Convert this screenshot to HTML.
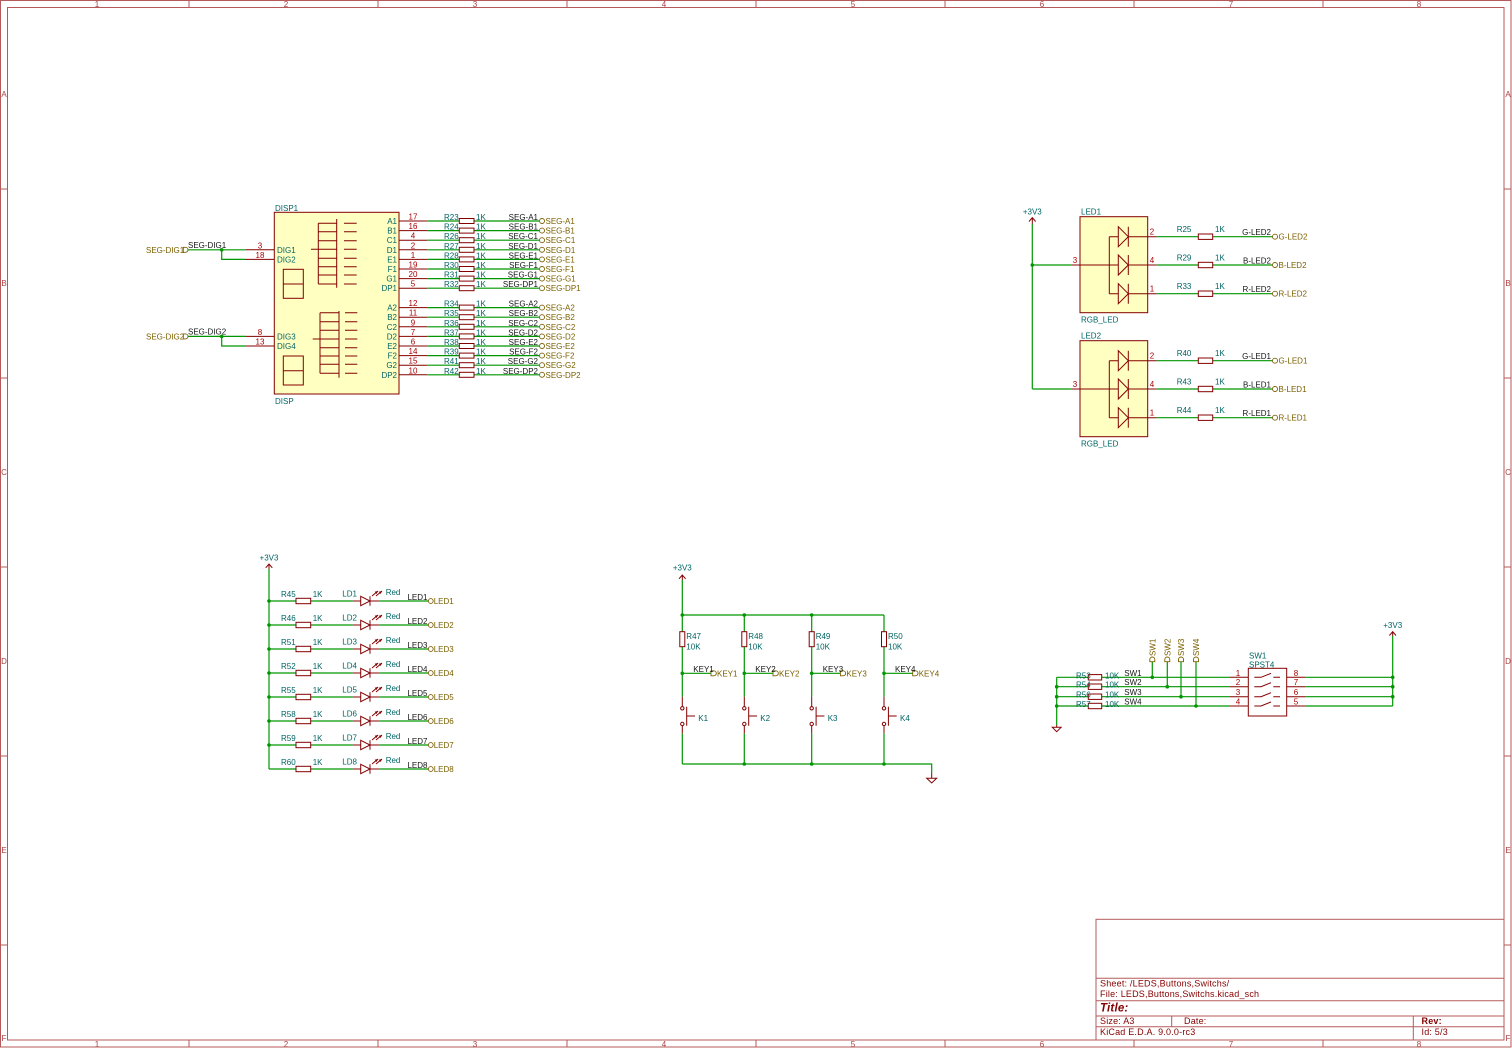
<!DOCTYPE html>
<html><head><meta charset="utf-8"><style>
html,body{margin:0;padding:0;background:#fff}
svg{display:block}
text{font-family:"Liberation Sans",sans-serif;font-size:8px}
.w{stroke:#009600;stroke-width:1.2;fill:none}
.p{stroke:#840000;stroke-width:1;fill:none}
.b{stroke:#840000;stroke-width:1;fill:#ffffc2}
.fr{stroke:#b55a5a;stroke-width:1;fill:none}
.fl{fill:#a84040;font-size:8px;text-anchor:middle}
.pn{fill:#a90000;text-anchor:middle}
.t{fill:#006464}
.n{fill:#151515}
.h{fill:#7a6000}
.hs{stroke:#7a6000;fill:none;stroke-width:0.9}
.e{text-anchor:end}
.m{text-anchor:middle}
.j{fill:#009600}
.tb{fill:#840000;font-size:9px;letter-spacing:0.2px}
</style></head><body>
<svg width="1512" height="1048" viewBox="0 0 1512 1048" xmlns="http://www.w3.org/2000/svg">
<!-- FRAME -->
<rect class="fr" x="0.5" y="0.5" width="1510.5" height="1046.5"/>
<rect class="fr" x="7.5" y="7.5" width="1496.5" height="1032.5"/>
<path class="fr" d="M189 0.5V7.5M378 0.5V7.5M567 0.5V7.5M756 0.5V7.5M945 0.5V7.5M1134 0.5V7.5M1323 0.5V7.5M189 1040V1047M378 1040V1047M567 1040V1047M756 1040V1047M945 1040V1047M1134 1040V1047M1323 1040V1047M0.5 189H7.5M0.5 378H7.5M0.5 567H7.5M0.5 756H7.5M0.5 945H7.5M1504 189H1511M1504 378H1511M1504 567H1511M1504 756H1511M1504 945H1511"/>
<text class="fl" x="97" y="7">1</text><text class="fl" x="286" y="7">2</text><text class="fl" x="475" y="7">3</text><text class="fl" x="664" y="7">4</text><text class="fl" x="853" y="7">5</text><text class="fl" x="1042" y="7">6</text><text class="fl" x="1231" y="7">7</text><text class="fl" x="1419" y="7">8</text>
<text class="fl" x="97" y="1047">1</text><text class="fl" x="286" y="1047">2</text><text class="fl" x="475" y="1047">3</text><text class="fl" x="664" y="1047">4</text><text class="fl" x="853" y="1047">5</text><text class="fl" x="1042" y="1047">6</text><text class="fl" x="1231" y="1047">7</text><text class="fl" x="1419" y="1047">8</text>
<text class="fl" x="4" y="97">A</text><text class="fl" x="4" y="286">B</text><text class="fl" x="4" y="475">C</text><text class="fl" x="4" y="664">D</text><text class="fl" x="4" y="853">E</text><text class="fl" x="4" y="1041">F</text>
<text class="fl" x="1508" y="97">A</text><text class="fl" x="1508" y="286">B</text><text class="fl" x="1508" y="475">C</text><text class="fl" x="1508" y="664">D</text><text class="fl" x="1508" y="853">E</text><text class="fl" x="1508" y="1041">F</text>

<!-- TITLE BLOCK -->
<rect class="fr" x="1096" y="919.3" width="408" height="120.7"/>
<path class="fr" d="M1096 978.3H1504M1096 1000.7H1504M1096 1016H1504M1096 1026.7H1504M1171.7 1016V1026.7M1413.3 1016V1040"/>
<text class="tb" x="1100" y="986.5">Sheet: /LEDS,Buttons,Switchs/</text>
<text class="tb" x="1100" y="996.8">File: LEDS,Buttons,Switchs.kicad_sch</text>
<text class="tb" x="1100" y="1011.5" style="font-size:11.5px;font-weight:bold;font-style:italic">Title:</text>
<text class="tb" x="1100" y="1024">Size: A3</text>
<text class="tb" x="1184" y="1024">Date:</text>
<text class="tb" x="1421.5" y="1024" style="font-weight:bold">Rev:</text>
<text class="tb" x="1100" y="1035">KiCad E.D.A. 9.0.0-rc3</text>
<text class="tb" x="1421.5" y="1035">Id: 5/3</text>

<!-- DISP1 -->
<rect class="b" x="274.3" y="212.3" width="124.7" height="181.7"/>
<text class="t" x="275" y="211">DISP1</text>
<text class="t" x="275" y="404">DISP</text>
<path class="p" d="M336.7 219V287.7M318.3 223.3V284M318.3 223.3H336.7M318.3 231.7H336.7M318.3 240.7H336.7M318.3 249.3H336.7M318.3 258.3H336.7M318.3 266.7H336.7M318.3 275H336.7M318.3 284H336.7M311 249.3H318.3M344 223.3H356.7M344 231.7H356.7M344 240.7H356.7M344 249.3H356.7M344 258.3H356.7M344 266.7H356.7M344 275H356.7M344 284H356.7"/>
<rect class="p" x="283.3" y="269.3" width="20" height="29"/><path class="p" d="M283.3 284H303.3"/>
<path class="p" d="M339 311V377.7M320 312.7V373.3M320 312.7H339M320 321.7H339M320 330.3H339M320 339H339M320 347.7H339M320 356H339M320 364.3H339M320 373.3H339M312.7 339H320M345 312.7H357.3M345 321.7H357.3M345 330.3H357.3M345 339H357.3M345 347.7H357.3M345 356H357.3M345 364.3H357.3M345 373.3H357.3"/>
<rect class="p" x="283.3" y="356" width="20" height="29"/><path class="p" d="M283.3 370.7H303.3"/>
<!-- left pins -->
<path class="p" d="M246 249.8H274.3M246 259.4H274.3M246 336.4H274.3M246 346H274.3"/>
<path class="w" d="M188 249.8H246M221.7 249.8V259.4H246M188 336.4H246M221.7 336.4V346H246"/>
<circle class="j" cx="221.7" cy="249.8" r="1.8"/><circle class="j" cx="221.7" cy="336.4" r="1.8"/>
<text class="pn" x="260" y="248.3">3</text><text class="pn" x="260" y="257.9">18</text><text class="pn" x="260" y="334.9">8</text><text class="pn" x="260" y="344.5">13</text>
<text class="t" x="277" y="252.8">DIG1</text><text class="t" x="277" y="262.4">DIG2</text><text class="t" x="277" y="339.4">DIG3</text><text class="t" x="277" y="349">DIG4</text>
<text class="n" x="188" y="248">SEG-DIG1</text><text class="n" x="188" y="334.6">SEG-DIG2</text>
<text class="h" x="146" y="252.8">SEG-DIG1</text><text class="h" x="146" y="339.4">SEG-DIG2</text>
<path class="hs" d="M183.3 247.3H185.5A2.5 2.5 0 0 1 185.5 252.3H183.3ZM183.3 333.9H185.5A2.5 2.5 0 0 1 185.5 338.9H183.3Z"/>
<!-- right pin rows -->
<g transform="translate(0,221)"><path class="p" d="M399 0H427.3"/><path class="w" d="M427.3 0H459.3M474 0H539"/><rect class="p" x="459.3" y="-2.5" width="14.7" height="5"/><circle class="hs" cx="542" cy="0" r="2.5"/><text class="pn" x="413" y="-1.5">17</text><text class="t e" x="397" y="3">A1</text><text class="t" x="444" y="-1">R23</text><text class="t" x="476" y="-1">1K</text><text class="n e" x="538" y="-1">SEG-A1</text><text class="h" x="545.5" y="3">SEG-A1</text></g>
<g transform="translate(0,230.6)"><path class="p" d="M399 0H427.3"/><path class="w" d="M427.3 0H459.3M474 0H539"/><rect class="p" x="459.3" y="-2.5" width="14.7" height="5"/><circle class="hs" cx="542" cy="0" r="2.5"/><text class="pn" x="413" y="-1.5">16</text><text class="t e" x="397" y="3">B1</text><text class="t" x="444" y="-1">R24</text><text class="t" x="476" y="-1">1K</text><text class="n e" x="538" y="-1">SEG-B1</text><text class="h" x="545.5" y="3">SEG-B1</text></g>
<g transform="translate(0,240.2)"><path class="p" d="M399 0H427.3"/><path class="w" d="M427.3 0H459.3M474 0H539"/><rect class="p" x="459.3" y="-2.5" width="14.7" height="5"/><circle class="hs" cx="542" cy="0" r="2.5"/><text class="pn" x="413" y="-1.5">4</text><text class="t e" x="397" y="3">C1</text><text class="t" x="444" y="-1">R26</text><text class="t" x="476" y="-1">1K</text><text class="n e" x="538" y="-1">SEG-C1</text><text class="h" x="545.5" y="3">SEG-C1</text></g>
<g transform="translate(0,249.8)"><path class="p" d="M399 0H427.3"/><path class="w" d="M427.3 0H459.3M474 0H539"/><rect class="p" x="459.3" y="-2.5" width="14.7" height="5"/><circle class="hs" cx="542" cy="0" r="2.5"/><text class="pn" x="413" y="-1.5">2</text><text class="t e" x="397" y="3">D1</text><text class="t" x="444" y="-1">R27</text><text class="t" x="476" y="-1">1K</text><text class="n e" x="538" y="-1">SEG-D1</text><text class="h" x="545.5" y="3">SEG-D1</text></g>
<g transform="translate(0,259.4)"><path class="p" d="M399 0H427.3"/><path class="w" d="M427.3 0H459.3M474 0H539"/><rect class="p" x="459.3" y="-2.5" width="14.7" height="5"/><circle class="hs" cx="542" cy="0" r="2.5"/><text class="pn" x="413" y="-1.5">1</text><text class="t e" x="397" y="3">E1</text><text class="t" x="444" y="-1">R28</text><text class="t" x="476" y="-1">1K</text><text class="n e" x="538" y="-1">SEG-E1</text><text class="h" x="545.5" y="3">SEG-E1</text></g>
<g transform="translate(0,269)"><path class="p" d="M399 0H427.3"/><path class="w" d="M427.3 0H459.3M474 0H539"/><rect class="p" x="459.3" y="-2.5" width="14.7" height="5"/><circle class="hs" cx="542" cy="0" r="2.5"/><text class="pn" x="413" y="-1.5">19</text><text class="t e" x="397" y="3">F1</text><text class="t" x="444" y="-1">R30</text><text class="t" x="476" y="-1">1K</text><text class="n e" x="538" y="-1">SEG-F1</text><text class="h" x="545.5" y="3">SEG-F1</text></g>
<g transform="translate(0,278.6)"><path class="p" d="M399 0H427.3"/><path class="w" d="M427.3 0H459.3M474 0H539"/><rect class="p" x="459.3" y="-2.5" width="14.7" height="5"/><circle class="hs" cx="542" cy="0" r="2.5"/><text class="pn" x="413" y="-1.5">20</text><text class="t e" x="397" y="3">G1</text><text class="t" x="444" y="-1">R31</text><text class="t" x="476" y="-1">1K</text><text class="n e" x="538" y="-1">SEG-G1</text><text class="h" x="545.5" y="3">SEG-G1</text></g>
<g transform="translate(0,288.2)"><path class="p" d="M399 0H427.3"/><path class="w" d="M427.3 0H459.3M474 0H539"/><rect class="p" x="459.3" y="-2.5" width="14.7" height="5"/><circle class="hs" cx="542" cy="0" r="2.5"/><text class="pn" x="413" y="-1.5">5</text><text class="t e" x="397" y="3">DP1</text><text class="t" x="444" y="-1">R32</text><text class="t" x="476" y="-1">1K</text><text class="n e" x="538" y="-1">SEG-DP1</text><text class="h" x="545.5" y="3">SEG-DP1</text></g>
<g transform="translate(0,307.6)"><path class="p" d="M399 0H427.3"/><path class="w" d="M427.3 0H459.3M474 0H539"/><rect class="p" x="459.3" y="-2.5" width="14.7" height="5"/><circle class="hs" cx="542" cy="0" r="2.5"/><text class="pn" x="413" y="-1.5">12</text><text class="t e" x="397" y="3">A2</text><text class="t" x="444" y="-1">R34</text><text class="t" x="476" y="-1">1K</text><text class="n e" x="538" y="-1">SEG-A2</text><text class="h" x="545.5" y="3">SEG-A2</text></g>
<g transform="translate(0,317.2)"><path class="p" d="M399 0H427.3"/><path class="w" d="M427.3 0H459.3M474 0H539"/><rect class="p" x="459.3" y="-2.5" width="14.7" height="5"/><circle class="hs" cx="542" cy="0" r="2.5"/><text class="pn" x="413" y="-1.5">11</text><text class="t e" x="397" y="3">B2</text><text class="t" x="444" y="-1">R35</text><text class="t" x="476" y="-1">1K</text><text class="n e" x="538" y="-1">SEG-B2</text><text class="h" x="545.5" y="3">SEG-B2</text></g>
<g transform="translate(0,326.8)"><path class="p" d="M399 0H427.3"/><path class="w" d="M427.3 0H459.3M474 0H539"/><rect class="p" x="459.3" y="-2.5" width="14.7" height="5"/><circle class="hs" cx="542" cy="0" r="2.5"/><text class="pn" x="413" y="-1.5">9</text><text class="t e" x="397" y="3">C2</text><text class="t" x="444" y="-1">R36</text><text class="t" x="476" y="-1">1K</text><text class="n e" x="538" y="-1">SEG-C2</text><text class="h" x="545.5" y="3">SEG-C2</text></g>
<g transform="translate(0,336.4)"><path class="p" d="M399 0H427.3"/><path class="w" d="M427.3 0H459.3M474 0H539"/><rect class="p" x="459.3" y="-2.5" width="14.7" height="5"/><circle class="hs" cx="542" cy="0" r="2.5"/><text class="pn" x="413" y="-1.5">7</text><text class="t e" x="397" y="3">D2</text><text class="t" x="444" y="-1">R37</text><text class="t" x="476" y="-1">1K</text><text class="n e" x="538" y="-1">SEG-D2</text><text class="h" x="545.5" y="3">SEG-D2</text></g>
<g transform="translate(0,346)"><path class="p" d="M399 0H427.3"/><path class="w" d="M427.3 0H459.3M474 0H539"/><rect class="p" x="459.3" y="-2.5" width="14.7" height="5"/><circle class="hs" cx="542" cy="0" r="2.5"/><text class="pn" x="413" y="-1.5">6</text><text class="t e" x="397" y="3">E2</text><text class="t" x="444" y="-1">R38</text><text class="t" x="476" y="-1">1K</text><text class="n e" x="538" y="-1">SEG-E2</text><text class="h" x="545.5" y="3">SEG-E2</text></g>
<g transform="translate(0,355.6)"><path class="p" d="M399 0H427.3"/><path class="w" d="M427.3 0H459.3M474 0H539"/><rect class="p" x="459.3" y="-2.5" width="14.7" height="5"/><circle class="hs" cx="542" cy="0" r="2.5"/><text class="pn" x="413" y="-1.5">14</text><text class="t e" x="397" y="3">F2</text><text class="t" x="444" y="-1">R39</text><text class="t" x="476" y="-1">1K</text><text class="n e" x="538" y="-1">SEG-F2</text><text class="h" x="545.5" y="3">SEG-F2</text></g>
<g transform="translate(0,365.2)"><path class="p" d="M399 0H427.3"/><path class="w" d="M427.3 0H459.3M474 0H539"/><rect class="p" x="459.3" y="-2.5" width="14.7" height="5"/><circle class="hs" cx="542" cy="0" r="2.5"/><text class="pn" x="413" y="-1.5">15</text><text class="t e" x="397" y="3">G2</text><text class="t" x="444" y="-1">R41</text><text class="t" x="476" y="-1">1K</text><text class="n e" x="538" y="-1">SEG-G2</text><text class="h" x="545.5" y="3">SEG-G2</text></g>
<g transform="translate(0,374.8)"><path class="p" d="M399 0H427.3"/><path class="w" d="M427.3 0H459.3M474 0H539"/><rect class="p" x="459.3" y="-2.5" width="14.7" height="5"/><circle class="hs" cx="542" cy="0" r="2.5"/><text class="pn" x="413" y="-1.5">10</text><text class="t e" x="397" y="3">DP2</text><text class="t" x="444" y="-1">R42</text><text class="t" x="476" y="-1">1K</text><text class="n e" x="538" y="-1">SEG-DP2</text><text class="h" x="545.5" y="3">SEG-DP2</text></g>

<!-- RGB LEDs -->
<text class="t m" x="1032.3" y="214.5">+3V3</text>
<path class="p" d="M1032.3 218V224M1029 221.5L1032.3 217.7L1035.6 221.5"/>
<path class="w" d="M1032.3 224V389M1032.3 265H1071.7M1032.3 389H1071.7"/>
<circle class="j" cx="1032.3" cy="265" r="1.8"/>
<g transform="translate(0,216.7)">
<rect class="b" x="1080" y="0" width="67.7" height="96"/>
<text class="t" x="1081" y="-2">LED1</text><text class="t" x="1081" y="106">RGB_LED</text>
<path class="p" d="M1071.7 48.3H1118.3M1109.3 20V77M1109.3 20H1118.3M1109.3 77H1118.3M1128.3 20H1156.7M1128.3 48.3H1156.7M1128.3 77H1156.7M1128.3 10V30M1128.3 38.3V58.3M1128.3 67V87"/>
<path class="p" d="M1118.3 10V30L1128.3 20ZM1118.3 38.3V58.3L1128.3 48.3ZM1118.3 67V87L1128.3 77Z"/>
<text class="pn" x="1075" y="46.3">3</text><text class="pn" x="1152" y="18">2</text><text class="pn" x="1152" y="46.3">4</text><text class="pn" x="1152" y="75">1</text>
<path class="w" d="M1156.7 20H1198.3M1212.7 20H1272.3M1156.7 48.3H1198.3M1212.7 48.3H1272.3M1156.7 77H1198.3M1212.7 77H1272.3"/>
<rect class="p" x="1198.3" y="17.3" width="14.4" height="5.4"/><rect class="p" x="1198.3" y="45.6" width="14.4" height="5.4"/><rect class="p" x="1198.3" y="74.3" width="14.4" height="5.4"/>
<circle class="hs" cx="1275" cy="20" r="2.5"/><circle class="hs" cx="1275" cy="48.3" r="2.5"/><circle class="hs" cx="1275" cy="77" r="2.5"/>
<text class="t" x="1176.7" y="15.5">R25</text><text class="t" x="1215" y="15.5">1K</text><text class="n e" x="1271" y="18.5">G-LED2</text><text class="h" x="1278.5" y="23">G-LED2</text>
<text class="t" x="1176.7" y="43.8">R29</text><text class="t" x="1215" y="43.8">1K</text><text class="n e" x="1271" y="46.8">B-LED2</text><text class="h" x="1278.5" y="51.3">B-LED2</text>
<text class="t" x="1176.7" y="72.5">R33</text><text class="t" x="1215" y="72.5">1K</text><text class="n e" x="1271" y="75.5">R-LED2</text><text class="h" x="1278.5" y="80">R-LED2</text>
</g>
<g transform="translate(0,340.7)">
<rect class="b" x="1080" y="0" width="67.7" height="96"/>
<text class="t" x="1081" y="-2">LED2</text><text class="t" x="1081" y="106">RGB_LED</text>
<path class="p" d="M1071.7 48.3H1118.3M1109.3 20V77M1109.3 20H1118.3M1109.3 77H1118.3M1128.3 20H1156.7M1128.3 48.3H1156.7M1128.3 77H1156.7M1128.3 10V30M1128.3 38.3V58.3M1128.3 67V87"/>
<path class="p" d="M1118.3 10V30L1128.3 20ZM1118.3 38.3V58.3L1128.3 48.3ZM1118.3 67V87L1128.3 77Z"/>
<text class="pn" x="1075" y="46.3">3</text><text class="pn" x="1152" y="18">2</text><text class="pn" x="1152" y="46.3">4</text><text class="pn" x="1152" y="75">1</text>
<path class="w" d="M1156.7 20H1198.3M1212.7 20H1272.3M1156.7 48.3H1198.3M1212.7 48.3H1272.3M1156.7 77H1198.3M1212.7 77H1272.3"/>
<rect class="p" x="1198.3" y="17.3" width="14.4" height="5.4"/><rect class="p" x="1198.3" y="45.6" width="14.4" height="5.4"/><rect class="p" x="1198.3" y="74.3" width="14.4" height="5.4"/>
<circle class="hs" cx="1275" cy="20" r="2.5"/><circle class="hs" cx="1275" cy="48.3" r="2.5"/><circle class="hs" cx="1275" cy="77" r="2.5"/>
<text class="t" x="1176.7" y="15.5">R40</text><text class="t" x="1215" y="15.5">1K</text><text class="n e" x="1271" y="18.5">G-LED1</text><text class="h" x="1278.5" y="23">G-LED1</text>
<text class="t" x="1176.7" y="43.8">R43</text><text class="t" x="1215" y="43.8">1K</text><text class="n e" x="1271" y="46.8">B-LED1</text><text class="h" x="1278.5" y="51.3">B-LED1</text>
<text class="t" x="1176.7" y="72.5">R44</text><text class="t" x="1215" y="72.5">1K</text><text class="n e" x="1271" y="75.5">R-LED1</text><text class="h" x="1278.5" y="80">R-LED1</text>
</g>

<!-- LED COLUMN -->
<text class="t m" x="269" y="560.5">+3V3</text>
<path class="p" d="M269 564V569M265.7 567.8L269 564L272.3 567.8"/>
<path class="w" d="M269 569V769"/>
<g>
<g transform="translate(0,601)"><path class="w" d="M269 0H296M310.7 0H352.7M379.3 0H428.3"/><path class="p" d="M352.7 0H360.7M370 0H379.3M360.7 -4.7V4.7L370 0ZM370 -4.7V4.7M372 -5L378 -10M376 -5L382 -10"/><path d="M378 -10L376.7 -7L374.7 -9.3ZM382 -10L380.7 -7L378.7 -9.3Z" fill="#840000"/><rect class="p" x="296" y="-2.7" width="14.7" height="5.4"/><circle class="j" cx="269" cy="0" r="1.8"/><circle class="hs" cx="430.8" cy="0" r="2.4"/><text class="t" x="281" y="-4">R45</text><text class="t" x="312.7" y="-4">1K</text><text class="t" x="342.3" y="-4.5">LD1</text><text class="t" x="385.7" y="-6">Red</text><text class="n e" x="427.5" y="-1">LED1</text><text class="h" x="433.7" y="3">LED1</text></g>
<g transform="translate(0,625)"><path class="w" d="M269 0H296M310.7 0H352.7M379.3 0H428.3"/><path class="p" d="M352.7 0H360.7M370 0H379.3M360.7 -4.7V4.7L370 0ZM370 -4.7V4.7M372 -5L378 -10M376 -5L382 -10"/><path d="M378 -10L376.7 -7L374.7 -9.3ZM382 -10L380.7 -7L378.7 -9.3Z" fill="#840000"/><rect class="p" x="296" y="-2.7" width="14.7" height="5.4"/><circle class="j" cx="269" cy="0" r="1.8"/><circle class="hs" cx="430.8" cy="0" r="2.4"/><text class="t" x="281" y="-4">R46</text><text class="t" x="312.7" y="-4">1K</text><text class="t" x="342.3" y="-4.5">LD2</text><text class="t" x="385.7" y="-6">Red</text><text class="n e" x="427.5" y="-1">LED2</text><text class="h" x="433.7" y="3">LED2</text></g>
<g transform="translate(0,649)"><path class="w" d="M269 0H296M310.7 0H352.7M379.3 0H428.3"/><path class="p" d="M352.7 0H360.7M370 0H379.3M360.7 -4.7V4.7L370 0ZM370 -4.7V4.7M372 -5L378 -10M376 -5L382 -10"/><path d="M378 -10L376.7 -7L374.7 -9.3ZM382 -10L380.7 -7L378.7 -9.3Z" fill="#840000"/><rect class="p" x="296" y="-2.7" width="14.7" height="5.4"/><circle class="j" cx="269" cy="0" r="1.8"/><circle class="hs" cx="430.8" cy="0" r="2.4"/><text class="t" x="281" y="-4">R51</text><text class="t" x="312.7" y="-4">1K</text><text class="t" x="342.3" y="-4.5">LD3</text><text class="t" x="385.7" y="-6">Red</text><text class="n e" x="427.5" y="-1">LED3</text><text class="h" x="433.7" y="3">LED3</text></g>
<g transform="translate(0,673)"><path class="w" d="M269 0H296M310.7 0H352.7M379.3 0H428.3"/><path class="p" d="M352.7 0H360.7M370 0H379.3M360.7 -4.7V4.7L370 0ZM370 -4.7V4.7M372 -5L378 -10M376 -5L382 -10"/><path d="M378 -10L376.7 -7L374.7 -9.3ZM382 -10L380.7 -7L378.7 -9.3Z" fill="#840000"/><rect class="p" x="296" y="-2.7" width="14.7" height="5.4"/><circle class="j" cx="269" cy="0" r="1.8"/><circle class="hs" cx="430.8" cy="0" r="2.4"/><text class="t" x="281" y="-4">R52</text><text class="t" x="312.7" y="-4">1K</text><text class="t" x="342.3" y="-4.5">LD4</text><text class="t" x="385.7" y="-6">Red</text><text class="n e" x="427.5" y="-1">LED4</text><text class="h" x="433.7" y="3">LED4</text></g>
<g transform="translate(0,697)"><path class="w" d="M269 0H296M310.7 0H352.7M379.3 0H428.3"/><path class="p" d="M352.7 0H360.7M370 0H379.3M360.7 -4.7V4.7L370 0ZM370 -4.7V4.7M372 -5L378 -10M376 -5L382 -10"/><path d="M378 -10L376.7 -7L374.7 -9.3ZM382 -10L380.7 -7L378.7 -9.3Z" fill="#840000"/><rect class="p" x="296" y="-2.7" width="14.7" height="5.4"/><circle class="j" cx="269" cy="0" r="1.8"/><circle class="hs" cx="430.8" cy="0" r="2.4"/><text class="t" x="281" y="-4">R55</text><text class="t" x="312.7" y="-4">1K</text><text class="t" x="342.3" y="-4.5">LD5</text><text class="t" x="385.7" y="-6">Red</text><text class="n e" x="427.5" y="-1">LED5</text><text class="h" x="433.7" y="3">LED5</text></g>
<g transform="translate(0,721)"><path class="w" d="M269 0H296M310.7 0H352.7M379.3 0H428.3"/><path class="p" d="M352.7 0H360.7M370 0H379.3M360.7 -4.7V4.7L370 0ZM370 -4.7V4.7M372 -5L378 -10M376 -5L382 -10"/><path d="M378 -10L376.7 -7L374.7 -9.3ZM382 -10L380.7 -7L378.7 -9.3Z" fill="#840000"/><rect class="p" x="296" y="-2.7" width="14.7" height="5.4"/><circle class="j" cx="269" cy="0" r="1.8"/><circle class="hs" cx="430.8" cy="0" r="2.4"/><text class="t" x="281" y="-4">R58</text><text class="t" x="312.7" y="-4">1K</text><text class="t" x="342.3" y="-4.5">LD6</text><text class="t" x="385.7" y="-6">Red</text><text class="n e" x="427.5" y="-1">LED6</text><text class="h" x="433.7" y="3">LED6</text></g>
<g transform="translate(0,745)"><path class="w" d="M269 0H296M310.7 0H352.7M379.3 0H428.3"/><path class="p" d="M352.7 0H360.7M370 0H379.3M360.7 -4.7V4.7L370 0ZM370 -4.7V4.7M372 -5L378 -10M376 -5L382 -10"/><path d="M378 -10L376.7 -7L374.7 -9.3ZM382 -10L380.7 -7L378.7 -9.3Z" fill="#840000"/><rect class="p" x="296" y="-2.7" width="14.7" height="5.4"/><circle class="j" cx="269" cy="0" r="1.8"/><circle class="hs" cx="430.8" cy="0" r="2.4"/><text class="t" x="281" y="-4">R59</text><text class="t" x="312.7" y="-4">1K</text><text class="t" x="342.3" y="-4.5">LD7</text><text class="t" x="385.7" y="-6">Red</text><text class="n e" x="427.5" y="-1">LED7</text><text class="h" x="433.7" y="3">LED7</text></g>
<g transform="translate(0,769)"><path class="w" d="M269 0H296M310.7 0H352.7M379.3 0H428.3"/><path class="p" d="M352.7 0H360.7M370 0H379.3M360.7 -4.7V4.7L370 0ZM370 -4.7V4.7M372 -5L378 -10M376 -5L382 -10"/><path d="M378 -10L376.7 -7L374.7 -9.3ZM382 -10L380.7 -7L378.7 -9.3Z" fill="#840000"/><rect class="p" x="296" y="-2.7" width="14.7" height="5.4"/><circle class="hs" cx="430.8" cy="0" r="2.4"/><text class="t" x="281" y="-4">R60</text><text class="t" x="312.7" y="-4">1K</text><text class="t" x="342.3" y="-4.5">LD8</text><text class="t" x="385.7" y="-6">Red</text><text class="n e" x="427.5" y="-1">LED8</text><text class="h" x="433.7" y="3">LED8</text></g>
</g>

<!-- KEYS -->
<text class="t m" x="682.3" y="570.5">+3V3</text>
<path class="p" d="M682.3 575V580M679 578.8L682.3 575L685.6 578.8"/>
<path class="w" d="M682.3 580V615H884M682.3 764H931.7V773"/>
<circle class="j" cx="682.3" cy="615" r="1.8"/><circle class="j" cx="744.3" cy="615" r="1.8"/><circle class="j" cx="811.7" cy="615" r="1.8"/>
<circle class="j" cx="744.3" cy="764" r="1.8"/><circle class="j" cx="811.7" cy="764" r="1.8"/><circle class="j" cx="884" cy="764" r="1.8"/>
<path class="p" d="M931.7 773V778.3M926.7 778.3H936.7L931.7 783Z"/>
<g transform="translate(682.3,0)"><path class="w" d="M0 615V631.7M0 646.7V696.7M0 733.3V764M0 673.3H28.7"/><rect class="p" x="-2.5" y="631.7" width="5" height="15"/><path class="p" d="M0 696.7V706.6M0 725.7V733.3M4.4 706.7V725.7M4.4 716H12.7"/><circle class="p" cx="0" cy="708.3" r="1.7"/><circle class="p" cx="0" cy="724" r="1.7"/><circle class="j" cx="0" cy="673.3" r="1.8"/><path class="hs" d="M28.7 670.8H31.5A2.5 2.5 0 0 1 31.5 675.8H28.7Z"/><text class="t" x="4" y="639">R47</text><text class="t" x="4" y="649.5">10K</text><text class="n" x="11" y="671.8">KEY1</text><text class="h" x="34.7" y="676.3">KEY1</text><text class="t" x="16" y="721">K1</text></g>
<g transform="translate(744.3,0)"><path class="w" d="M0 615V631.7M0 646.7V696.7M0 733.3V764M0 673.3H28.7"/><rect class="p" x="-2.5" y="631.7" width="5" height="15"/><path class="p" d="M0 696.7V706.6M0 725.7V733.3M4.4 706.7V725.7M4.4 716H12.7"/><circle class="p" cx="0" cy="708.3" r="1.7"/><circle class="p" cx="0" cy="724" r="1.7"/><circle class="j" cx="0" cy="673.3" r="1.8"/><path class="hs" d="M28.7 670.8H31.5A2.5 2.5 0 0 1 31.5 675.8H28.7Z"/><text class="t" x="4" y="639">R48</text><text class="t" x="4" y="649.5">10K</text><text class="n" x="11" y="671.8">KEY2</text><text class="h" x="34.7" y="676.3">KEY2</text><text class="t" x="16" y="721">K2</text></g>
<g transform="translate(811.7,0)"><path class="w" d="M0 615V631.7M0 646.7V696.7M0 733.3V764M0 673.3H28.7"/><rect class="p" x="-2.5" y="631.7" width="5" height="15"/><path class="p" d="M0 696.7V706.6M0 725.7V733.3M4.4 706.7V725.7M4.4 716H12.7"/><circle class="p" cx="0" cy="708.3" r="1.7"/><circle class="p" cx="0" cy="724" r="1.7"/><circle class="j" cx="0" cy="673.3" r="1.8"/><path class="hs" d="M28.7 670.8H31.5A2.5 2.5 0 0 1 31.5 675.8H28.7Z"/><text class="t" x="4" y="639">R49</text><text class="t" x="4" y="649.5">10K</text><text class="n" x="11" y="671.8">KEY3</text><text class="h" x="34.7" y="676.3">KEY3</text><text class="t" x="16" y="721">K3</text></g>
<g transform="translate(884,0)"><path class="w" d="M0 615V631.7M0 646.7V696.7M0 733.3V764M0 673.3H28.7"/><rect class="p" x="-2.5" y="631.7" width="5" height="15"/><path class="p" d="M0 696.7V706.6M0 725.7V733.3M4.4 706.7V725.7M4.4 716H12.7"/><circle class="p" cx="0" cy="708.3" r="1.7"/><circle class="p" cx="0" cy="724" r="1.7"/><circle class="j" cx="0" cy="673.3" r="1.8"/><path class="hs" d="M28.7 670.8H31.5A2.5 2.5 0 0 1 31.5 675.8H28.7Z"/><text class="t" x="4" y="639">R50</text><text class="t" x="4" y="649.5">10K</text><text class="n" x="11" y="671.8">KEY4</text><text class="h" x="34.7" y="676.3">KEY4</text><text class="t" x="16" y="721">K4</text></g>

<!-- SWITCHES -->
<text class="t m" x="1392.7" y="628">+3V3</text>
<path class="p" d="M1392.7 631.7V636M1389.4 635.5L1392.7 631.7L1396 635.5"/>
<path class="w" d="M1392.7 636V706M1056.7 677.3V725"/>
<circle class="j" cx="1392.7" cy="677.3" r="1.8"/><circle class="j" cx="1392.7" cy="686.7" r="1.8"/><circle class="j" cx="1392.7" cy="696.7" r="1.8"/>
<circle class="j" cx="1056.7" cy="686.7" r="1.8"/><circle class="j" cx="1056.7" cy="696.7" r="1.8"/><circle class="j" cx="1056.7" cy="706" r="1.8"/>
<path class="p" d="M1056.7 725V727.3M1052.3 727.3H1061.1L1056.7 731.7Z"/>
<rect class="p" x="1248.3" y="668.3" width="38.4" height="47.7"/>
<text class="t" x="1249" y="658.5">SW1</text><text class="t" x="1249" y="667.5">SPST4</text>
<g transform="translate(0,677.3)"><path class="w" d="M1056.7 0H1088.3M1101.7 0H1230M1305 0H1392.7"/><path class="p" d="M1230 0H1248.3M1286.7 0H1305M1254.3 0H1261L1271 -4M1273.3 0H1280"/><rect class="p" x="1088.3" y="-2.7" width="13.4" height="5.4"/><text class="t" x="1076" y="1">R53</text><text class="t" x="1105" y="1">10K</text><text class="n" x="1124.3" y="-1.5">SW1</text><text class="pn" x="1238" y="-1.5">1</text><text class="pn" x="1296" y="-1.5">8</text></g>
<g transform="translate(0,686.7)"><path class="w" d="M1056.7 0H1088.3M1101.7 0H1230M1305 0H1392.7"/><path class="p" d="M1230 0H1248.3M1286.7 0H1305M1254.3 0H1261L1271 -4M1273.3 0H1280"/><rect class="p" x="1088.3" y="-2.7" width="13.4" height="5.4"/><text class="t" x="1076" y="1">R54</text><text class="t" x="1105" y="1">10K</text><text class="n" x="1124.3" y="-1.5">SW2</text><text class="pn" x="1238" y="-1.5">2</text><text class="pn" x="1296" y="-1.5">7</text></g>
<g transform="translate(0,696.7)"><path class="w" d="M1056.7 0H1088.3M1101.7 0H1230M1305 0H1392.7"/><path class="p" d="M1230 0H1248.3M1286.7 0H1305M1254.3 0H1261L1271 -4M1273.3 0H1280"/><rect class="p" x="1088.3" y="-2.7" width="13.4" height="5.4"/><text class="t" x="1076" y="1">R56</text><text class="t" x="1105" y="1">10K</text><text class="n" x="1124.3" y="-1.5">SW3</text><text class="pn" x="1238" y="-1.5">3</text><text class="pn" x="1296" y="-1.5">6</text></g>
<g transform="translate(0,706)"><path class="w" d="M1056.7 0H1088.3M1101.7 0H1230M1305 0H1392.7"/><path class="p" d="M1230 0H1248.3M1286.7 0H1305M1254.3 0H1261L1271 -4M1273.3 0H1280"/><rect class="p" x="1088.3" y="-2.7" width="13.4" height="5.4"/><text class="t" x="1076" y="1">R57</text><text class="t" x="1105" y="1">10K</text><text class="n" x="1124.3" y="-1.5">SW4</text><text class="pn" x="1238" y="-1.5">4</text><text class="pn" x="1296" y="-1.5">5</text></g>
<path class="w" d="M1152.3 677.3V661.7M1167.3 686.7V661.7M1181 696.7V661.7M1196 706V661.7"/>
<circle class="j" cx="1152.3" cy="677.3" r="1.8"/><circle class="j" cx="1167.3" cy="686.7" r="1.8"/><circle class="j" cx="1181" cy="696.7" r="1.8"/><circle class="j" cx="1196" cy="706" r="1.8"/>
<path class="hs" d="M1149.8 661.7V659.5A2.5 2.5 0 0 1 1154.8 659.5V661.7ZM1164.8 661.7V659.5A2.5 2.5 0 0 1 1169.8 659.5V661.7ZM1178.5 661.7V659.5A2.5 2.5 0 0 1 1183.5 659.5V661.7ZM1193.5 661.7V659.5A2.5 2.5 0 0 1 1198.5 659.5V661.7Z"/>
<text class="h" transform="translate(1155.3,656) rotate(-90)">SW1</text>
<text class="h" transform="translate(1170.3,656) rotate(-90)">SW2</text>
<text class="h" transform="translate(1184,656) rotate(-90)">SW3</text>
<text class="h" transform="translate(1199,656) rotate(-90)">SW4</text>
</svg>
</body></html>
